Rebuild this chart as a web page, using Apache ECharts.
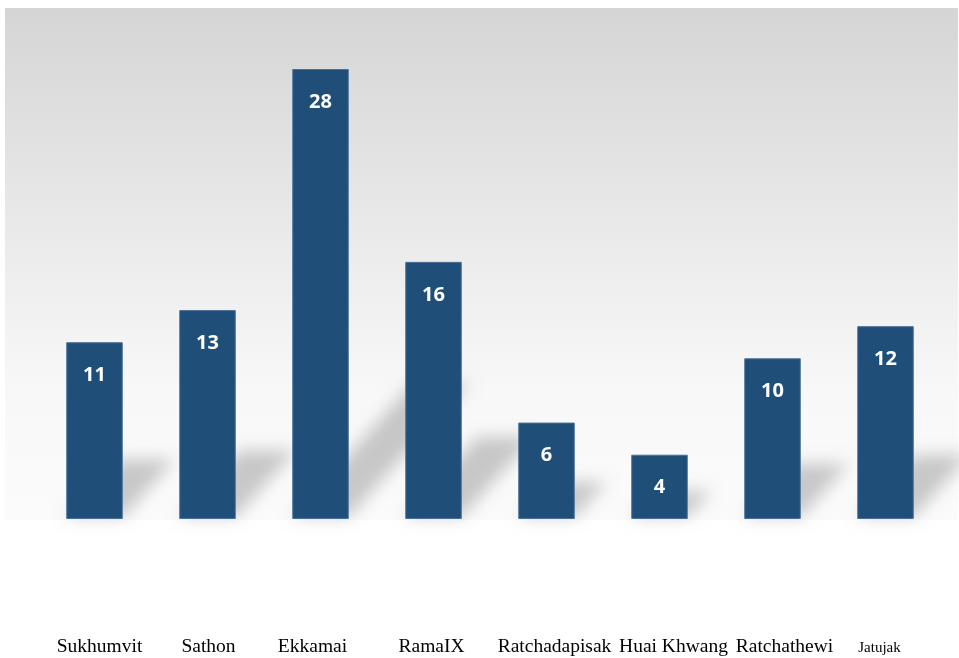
<!DOCTYPE html>
<html lang="en">
<head>
    <meta charset="UTF-8">
    <title>Branches</title>
    <script src="https://cdn.jsdelivr.net/npm/echarts@6/dist/echarts.min.js"></script>
    <style>
        html, body { margin: 0; padding: 0; background: #fff; }
        #main { width: 959px; height: 658px; }
    </style>
</head>
<body>
    <div id="main"></div>
    <script>
        // data
        var categories = ['Sukhumvit', 'Sathon', 'Ekkamai', 'RamaIX', 'Ratchadapisak', 'Huai Khwang', 'Ratchathewi', 'Jatujak'];
        var counts = [11, 13, 28, 16, 6, 4, 10, 12];

        // label styles: the original labels sit a little off the bar centres
        var labelRich = {
            a: { fontSize: 19.5, padding: [0, 0, 0, 10] },
            b: { fontSize: 19.5, padding: [0, 0, 0, 2] },
            c: { fontSize: 19.5, padding: [0, 16, 0, 0] },
            d: { fontSize: 19.5, padding: [0, 4, 0, 0] },
            e: { fontSize: 19.5, padding: [0, 0, 0, 16] },
            f: { fontSize: 19.5, padding: [0, 0, 0, 28] },
            g: { fontSize: 19.5, padding: [0, 0, 0, 24] },
            h: { fontSize: 15, padding: [4, 12, 0, 0] }
        };
        var richKeys = ['a', 'b', 'c', 'd', 'e', 'f', 'g', 'h'];

        var myChart = echarts.init(document.getElementById('main'));

        // soft diagonal "floor" shadow behind each bar
        // (shape is moved off screen, only its blurred shadow is drawn)
        var OFF = 3000;
        function shadowItem(params, api) {
            var base = api.coord([api.value(0), 0]);
            var band = api.size([1, 0])[0];
            var hw = band * 0.25;
            var dy = api.value(1) * 4.5 + 8;
            var dx = dy * 0.9;
            var x = base[0] - OFF, y = base[1] - 2;
            return {
                type: 'polygon',
                shape: {
                    points: [[x - hw, y], [x + hw, y], [x + hw + dx, y - dy], [x - hw + dx, y - dy]]
                },
                style: {
                    fill: '#000',
                    shadowBlur: 16,
                    shadowOffsetX: OFF,
                    shadowColor: 'rgba(0,0,0,0.2)'
                },
                silent: true
            };
        }

        var option = {
            animation: false,
            backgroundColor: '#ffffff',
            graphic: [{
                type: 'rect',
                z: -100,
                silent: true,
                shape: { x: 5, y: 8, width: 953, height: 512 },
                style: {
                    fill: new echarts.graphic.LinearGradient(0, 0, 0, 1, [
                        { offset: 0, color: '#d5d5d5' },
                        { offset: 0.55, color: '#efefef' },
                        { offset: 0.75, color: '#f8f8f8' },
                        { offset: 1, color: '#fbfbfb' }
                    ])
                }
            }],
            grid: {
                left: 38,
                right: 17,
                top: 69,
                bottom: 139
            },
            xAxis: {
                type: 'category',
                data: categories,
                axisLine: { show: false },
                axisTick: { show: false },
                axisLabel: {
                    margin: 118,
                    interval: 0,
                    hideOverlap: false,
                    color: '#000',
                    fontFamily: 'Liberation Serif',
                    fontSize: 19.5,
                    formatter: function (v, i) {
                        return '{' + richKeys[i] + '|' + v + '}';
                    },
                    rich: labelRich
                }
            },
            yAxis: {
                type: 'value',
                min: 0,
                max: 28,
                show: false
            },
            series: [{
                type: 'custom',
                z: 1,
                clip: false,
                renderItem: shadowItem,
                data: counts.map(function (v, i) { return [i, v]; })
            }, {
                type: 'bar',
                z: 3,
                data: counts,
                barWidth: '50%',
                itemStyle: {
                    color: '#1f4e79',
                    borderColor: '#4a7099',
                    borderWidth: 1
                },
                label: {
                    show: true,
                    position: 'insideTop',
                    distance: 23,
                    color: '#fff',
                    fontFamily: 'Open Sans',
                    fontWeight: 'bold',
                    fontSize: 20
                }
            }]
        };
        myChart.setOption(option);
    </script>
</body>
</html>
